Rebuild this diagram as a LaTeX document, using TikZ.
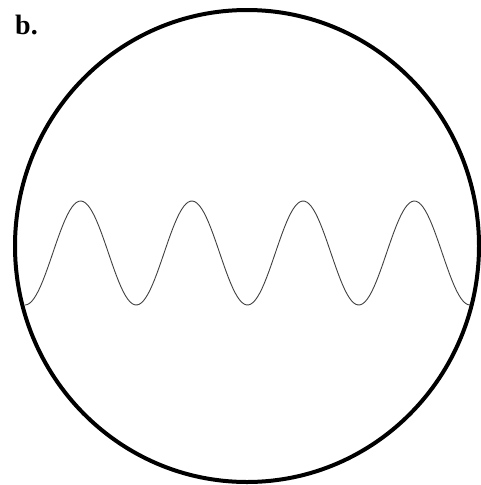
\documentclass[tikz,border=0pt]{standalone}
\usepackage{fontspec}
\setmainfont{Liberation Serif}
\begin{document}
\begin{tikzpicture}[x=1pt,y=-1pt,line join=round,line cap=round]
				\useasboundingbox (0,0) rectangle (481,485);
				\coordinate (M) at (247,246);
				\draw[line width=4pt] (M) ellipse (232 and 236);
				\draw[black!75,line width=0.9pt] plot[domain=25:470,samples=200] (\x, {253+52*cos(3.23596*(\x-25))});
				\node[anchor=base west,inner sep=0pt,font=\fontsize{28}{28}\selectfont\bfseries] (lbl) at (15,34) {b.};
			\end{tikzpicture}
\end{document}
